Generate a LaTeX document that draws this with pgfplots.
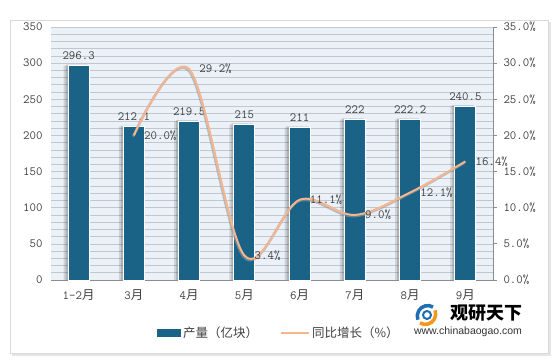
\documentclass[border=0pt]{standalone}
\usepackage{pgfplots}
\pgfplotsset{compat=1.18}
\usepackage{fontspec}
\setmainfont{Liberation Serif}
\newfontfamily\cjk{Noto Sans CJK SC}
\newfontfamily\urlfont{Liberation Sans}
\newcommand\numfont{\ttfamily\fontsize{12.5}{14}\selectfont}
\definecolor{barc}{HTML}{1B6386}
\definecolor{linec}{HTML}{F5B58E}
\definecolor{bgc}{HTML}{EBF1F8}
\definecolor{gridc}{HTML}{C3C7CC}
\definecolor{txt}{HTML}{404040}
\begin{document}
\begin{tikzpicture}[x=1pt,y=1pt]
\useasboundingbox (0,0) rectangle (558,363);
\fill[white] (0,0) rectangle (558,363);
\fill[black!10] (12,7) rectangle (551,341);
\fill[white,draw=black!15] (10,10) rectangle (548,343);
\begin{axis}[at={(51pt,83pt)},anchor=south west,scale only axis,width=442pt,height=253pt,
  xmin=-0.5,xmax=7.5,ymin=0,ymax=350,
  ytick={0,50,...,350},minor ytick={10,20,...,340},
  ymajorgrids,yminorgrids,grid style={gridc,line width=0.7pt},
  minor grid style={gridc,line width=0.7pt},
  axis background/.style={fill=bgc},
  axis x line*=bottom,axis y line*=left,
  y axis line style={draw=none},x axis line style={draw=black!45,line width=0.8pt},
  major tick length=0pt,minor tick length=0pt,
  xtick={0,...,7},
  xticklabels={1-2{\cjk 月},3{\cjk 月},4{\cjk 月},5{\cjk 月},6{\cjk 月},7{\cjk 月},8{\cjk 月},9{\cjk 月}},
  tick label style={font=\numfont,text=txt},
  /pgf/number format/assume math mode=true,
  yticklabel style={xshift=-5pt},
  xticklabel style={yshift=-6pt},
  legend style={at={(0.516,-0.21)},anchor=center,draw=none,fill=none,legend columns=2,
    font=\cjk\fontsize{12.5}{14}\selectfont,text=txt,
    /tikz/every even column/.append style={column sep=20pt}},
  clip=false]
\addplot[ybar,bar width=25pt,bar shift=-2.5pt,fill=black,opacity=0.12,draw=none,forget plot]
  coordinates {(0,296.3)(1,212.1)(2,219.5)(3,215)(4,211)(5,222)(6,222.2)(7,240.5)};
\addplot[ybar,bar width=22pt,bar shift=-2pt,fill=black,opacity=0.15,draw=none,forget plot]
  coordinates {(0,297.8)(1,213.6)(2,221)(3,216.5)(4,212.5)(5,223.5)(6,223.7)(7,242)};
\addplot[ybar,bar width=21pt,fill=barc,draw=white,line width=0.8pt,
  nodes near coords,
  every node near coord/.append style={font=\numfont,text=txt,yshift=2pt},
  legend image code/.code={\fill[barc] (0pt,-3pt) rectangle (23pt,3.5pt);}]
  coordinates {(0,296.3)(1,212.1)(2,219.5)(3,215)(4,211)(5,222)(6,222.2)(7,240.5)};
\addlegendentry{产量（亿块）}
\addlegendimage{legend image code/.code={\draw[linec,line width=2pt] (0pt,0pt) -- (28pt,0pt);}}
\addlegendentry{同比增长（\%）}
\end{axis}
\begin{axis}[at={(51pt,83pt)},anchor=south west,scale only axis,width=442pt,height=253pt,
  xmin=-0.5,xmax=7.5,ymin=0,ymax=35,
  axis x line=none,axis y line*=right,
  y axis line style={draw=black!45,line width=0.8pt},
  ytick={0,5,...,35},ytick pos=right,tick align=outside,major tick length=4pt,
  ytick style={draw=black!45,line width=0.8pt},
  yticklabel={\pgfmathprintnumber[fixed,fixed zerofill,precision=1]{\tick}\%},
  /pgf/number format/assume math mode=true,
  tick label style={font=\numfont,text=txt},
  yticklabel style={xshift=3pt},
  clip=false]
\addplot[smooth,tension=0.55,black!40,opacity=0.6,line width=2.6pt,xshift=-0.8pt,yshift=-1.2pt,forget plot]
  coordinates {(1,20.0)(2,29.2)(3,3.4)(4,11.1)(5,9.0)(6,12.1)(7,16.4)};
\addplot[smooth,tension=0.55,linec,line width=2pt,
  nodes near coords={\pgfmathprintnumber[fixed,fixed zerofill,precision=1]{\pgfplotspointmeta}\%},
  every node near coord/.append style={font=\numfont,text=txt,anchor=west,xshift=6pt}]
  coordinates {(1,20.0)(2,29.2)(3,3.4)(4,11.1)(5,9.0)(6,12.1)(7,16.4)};
\end{axis}
% watermark
\draw[line width=3.5pt,color={rgb,255:red,30;green,110;blue,180}] (433,56) arc (60:200:10.5);
\draw[line width=3.5pt,color={rgb,255:red,245;green,150;blue,30}] (420,40) arc (240:380:10.5);
\draw[line width=2pt,color={rgb,255:red,30;green,110;blue,180}] (427,48) circle (4);
\node[font=\cjk\bfseries\fontsize{18}{20}\selectfont,anchor=center] at (486,50) {观研天下};
\node[font=\urlfont\fontsize{10.5}{12}\selectfont,text=black!80,anchor=center] at (468,31) {www.chinabaogao.com};
\end{tikzpicture}
\end{document}
